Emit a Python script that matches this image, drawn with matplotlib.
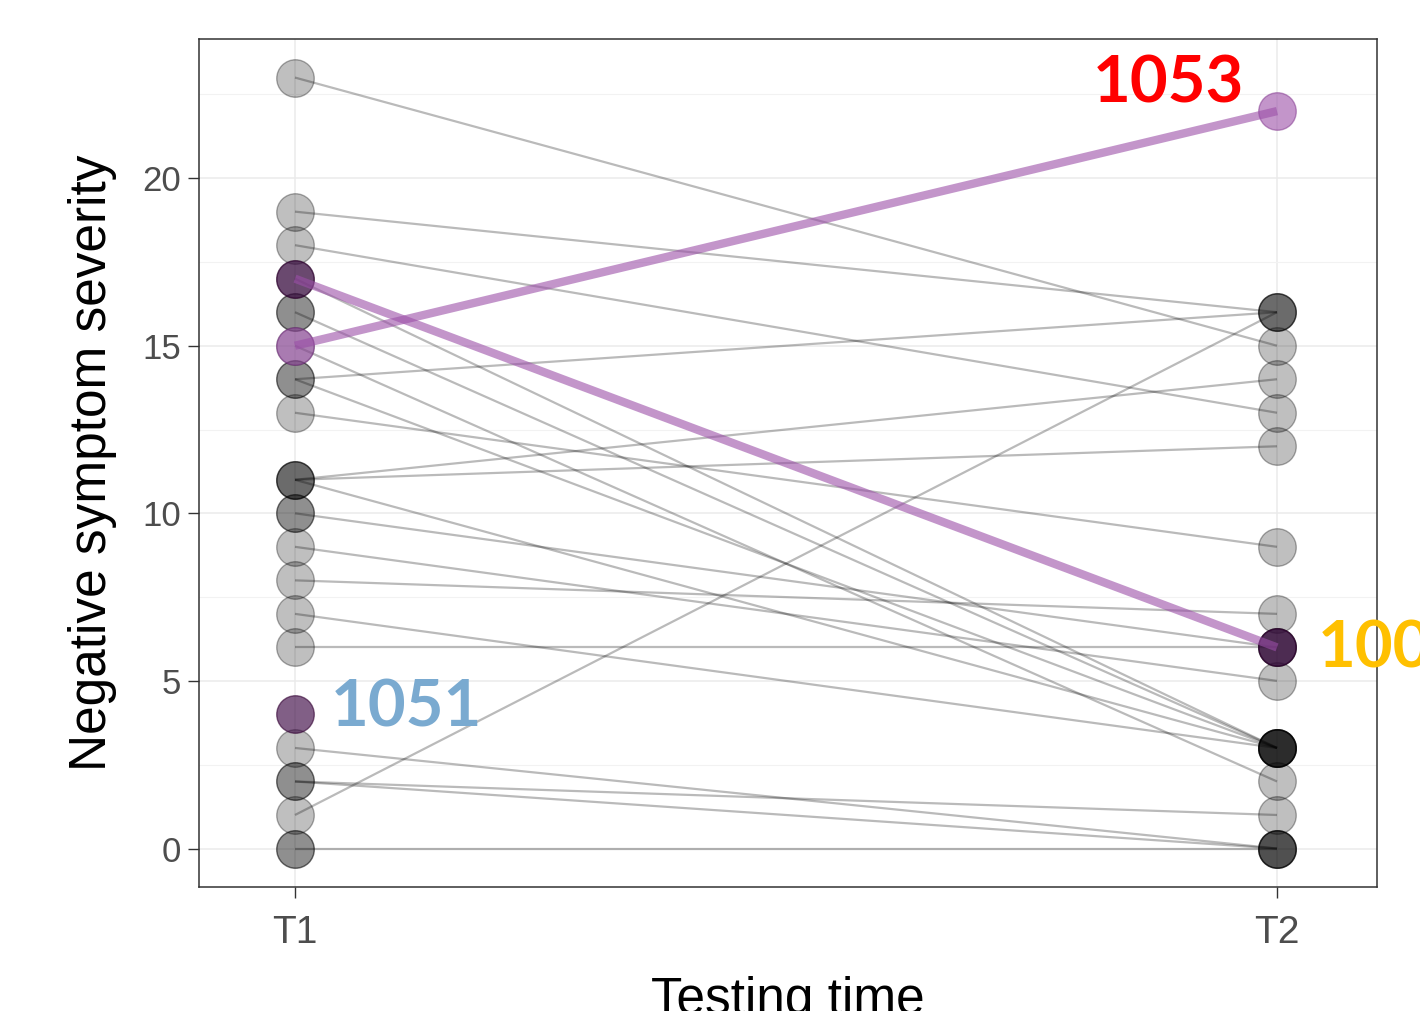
import numpy as np
import matplotlib.pyplot as plt
from matplotlib.ticker import MultipleLocator

# scores at the two testing times, one entry per participant (grey)
t1_scores = [23, 19, 18, 17, 16, 16, 15, 14, 14, 13, 11, 11, 11, 10, 10, 9, 8, 7, 6, 3, 2, 2, 1, 0, 0]
t2_scores = [15, 16, 13, 3, 3, 3, 2, 16, 3, 9, 14, 12, 3, 6, 6, 5, 7, 3, 6, 0, 0, 1, 16, 0, 0]

# highlighted participants
hl_1053 = [15, 22]
hl_100x = [17, 6]
hl_1051_t1 = 4

times = [1, 2]
time_labels = ["T1", "T2"]

fig = plt.figure(figsize=(14.2, 10.11), dpi=100)
ax = fig.add_axes([0.1401, 0.1226, 0.8296, 0.8388])

grey_pt = (0, 0, 0, 0.25)
grey_edge = (0, 0, 0, 0.32)
grey_line = (0, 0, 0, 0.27)
purple_light = (0.608, 0.31, 0.66, 0.6)
purple_dark = (0.24, 0.04, 0.27, 0.65)

# grey participants
for a, b in zip(t1_scores, t2_scores):
    ax.plot(times, [a, b], ls="none", marker="o", ms=27, mfc=grey_pt,
            mec=grey_edge, mew=1, zorder=3)
# identical trajectories sit on top of each other, draw each path once
for a, b in sorted(set(zip(t1_scores, t2_scores))):
    ax.plot(times, [a, b], color=grey_line, lw=1.6, zorder=4,
            solid_capstyle="butt")

# highlighted ones
ax.plot(times, hl_1053, ls="none", marker="o", ms=27, mfc=purple_light,
        mec=(0.5, 0.2, 0.55, 0.5), mew=1, zorder=5)
ax.plot(times, hl_100x, ls="none", marker="o", ms=27, mfc=purple_dark,
        mec=(0.2, 0.0, 0.2, 0.6), mew=1, zorder=5)
ax.plot([times[0]], [hl_1051_t1], ls="none", marker="o", ms=27, mfc=purple_dark,
        mec=(0.2, 0.0, 0.2, 0.6), mew=1, zorder=5)
ax.plot(times, hl_1053, color=purple_light, lw=6, zorder=6, solid_capstyle="butt")
ax.plot(times, hl_100x, color=purple_light, lw=6, zorder=6, solid_capstyle="butt")

# id labels
lab_font = dict(family=["Lato", "DejaVu Sans"], weight="bold", fontsize=47)
ax.text(1.889, hl_1053[1] + 0.8, "1053", color="#ff0000", ha="center",
        va="center", zorder=8, **lab_font)
ax.text(1.036, hl_1051_t1 + 0.2, "1051", color="#7aaad0", ha="left",
        va="center", zorder=8, **lab_font)
ax.text(2.041, hl_100x[1] - 0.05, "100", color="#ffc000", ha="left",
        va="center", zorder=8, clip_on=False, **lab_font)

# axes, theme_bw style
ax.set_xlim(0.9022, 2.1018)
ax.set_ylim(-1.15, 24.15)
ax.set_xticks(times)
ax.set_xticklabels(time_labels)
ax.yaxis.set_major_locator(MultipleLocator(5))
ax.yaxis.set_minor_locator(MultipleLocator(2.5))
ax.grid(which="major", color="#ebebeb", lw=1.1, zorder=0)
ax.grid(which="minor", axis="y", color="#f2f2f2", lw=0.8, zorder=0)
ax.set_axisbelow(True)
for s in ax.spines.values():
    s.set_color("#333333")
    s.set_linewidth(1.1)
    s.set_zorder(7)

tick_font = "Liberation Sans"
ax.tick_params(axis="both", which="major", length=8, width=1, color="#333333",
               labelcolor="#4d4d4d")
ax.tick_params(axis="y", which="minor", length=0)
ax.tick_params(axis="y", labelsize=25, pad=5)
ax.tick_params(axis="x", labelsize=28, pad=12)
for lbl in ax.get_xticklabels() + ax.get_yticklabels():
    lbl.set_family(tick_font)

ax.set_xlabel("Testing time", fontsize=37, family=tick_font, labelpad=18)
ax.set_ylabel("Negative symptom severity", fontsize=37, family=tick_font, labelpad=18)

fig.savefig("out.png", dpi=100)
